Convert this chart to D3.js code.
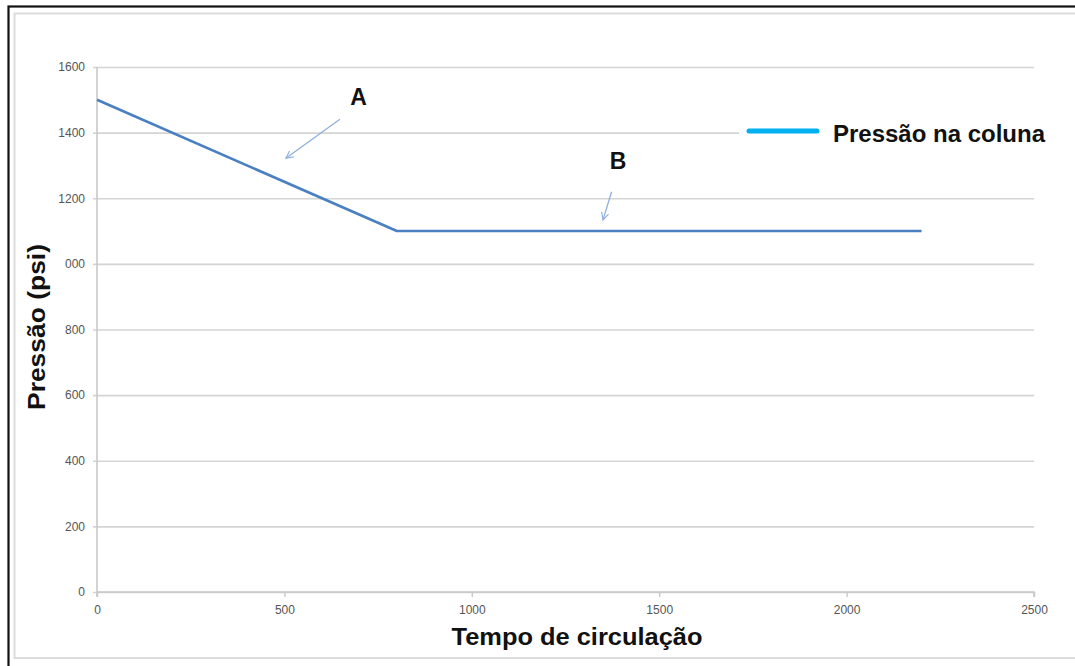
<!DOCTYPE html>
<html>
<head>
<meta charset="utf-8">
<script src="https://cdn.jsdelivr.net/npm/d3@7"></script>
<style>
  html, body { margin: 0; padding: 0; background: #fff; }
  svg { display: block; }
</style>
</head>
<body>
<svg id="chart" width="1075" height="666"></svg>
<script>
// ---- data ----
const tempo = [0, 800, 2200];
const pressao = [1500, 1100, 1100];
const xTicks = [0, 500, 1000, 1500, 2000, 2500];
const xTickLabels = ["0", "500", "1000", "1500", "2000", "2500"];
const yTicks = [0, 200, 400, 600, 800, 1000, 1200, 1400, 1600];
const yTickLabels = ["0", "200", "400", "600", "800", "000", "1200", "1400", "1600"];
const seriesName = "Pressão na coluna";
const xTitle = "Tempo de circulação";
const yTitle = "Pressão (psi)";
// annotations: label, label position, arrow start, arrow end (data coords)
const annLabels = ["A", "B"];
const annLabelX = [698, 1390];
const annLabelY = [1484, 1289];
const annFromX = [648, 1373];
const annFromY = [1441, 1220];
const annToX = [504, 1350];
const annToY = [1322, 1134];

// ---- layout ----
const svg = d3.select("#chart");
const x = d3.scaleLinear().domain([0, 2500]).range([97, 1034]);
const y = d3.scaleLinear().domain([0, 1600]).range([592, 67]);

// frames
svg.append("rect").attr("x", 14.5).attr("y", 13.5).attr("width", 1100).attr("height", 644.5)
  .attr("fill", "none").attr("stroke", "#dcdcdc").attr("stroke-width", 2);
svg.append("rect").attr("x", 8.5).attr("y", 6.5).attr("width", 1100).attr("height", 700)
  .attr("fill", "none").attr("stroke", "#111").attr("stroke-width", 2.2);

const defs = svg.append("defs");
defs.append("marker").attr("id", "arr").attr("viewBox", "0 0 10 10")
  .attr("refX", 9).attr("refY", 5).attr("markerWidth", 9).attr("markerHeight", 9)
  .attr("orient", "auto").attr("markerUnits", "userSpaceOnUse")
  .append("path").attr("d", "M1,1 L9,5 L1,9").attr("fill", "none")
  .attr("stroke", "#8fb0dc").attr("stroke-width", 1.3);

const tickFont = "Liberation Sans, Arial, sans-serif";

// gridlines via axis
const yAxis = d3.axisLeft(y).tickValues(yTicks)
  .tickSize(-(1034 - 93)).tickFormat((d, i) => yTickLabels[i]);
const gy = svg.append("g").attr("transform", "translate(93,0)").call(yAxis);
gy.select(".domain").remove();
gy.selectAll(".tick line").attr("stroke", "#d4d4d4").attr("stroke-width", 1.6);
gy.selectAll(".tick text").attr("x", -8).attr("fill", "#555")
  .style("font-family", tickFont).style("font-size", "12px");

// vertical axis line
svg.append("line").attr("x1", 97).attr("x2", 97).attr("y1", 67).attr("y2", 597)
  .attr("stroke", "#c8c8c8").attr("stroke-width", 1.6);

const xAxis = d3.axisBottom(x).tickValues(xTicks).tickSize(5)
  .tickFormat((d, i) => xTickLabels[i]);
const gx = svg.append("g").attr("transform", "translate(0,592)").call(xAxis);
gx.select(".domain").attr("stroke", "#c8c8c8").attr("stroke-width", 1.6)
  .attr("d", `M${x(0)},0H${x(2500)}V5`);
gx.selectAll(".tick line").attr("stroke", "#c8c8c8").attr("stroke-width", 1.4);
gx.selectAll(".tick text").attr("y", 13).attr("fill", "#555")
  .style("font-family", tickFont).style("font-size", "12px");

// legend background (covers grid)
svg.append("rect").attr("x", 739).attr("y", 112).attr("width", 320).attr("height", 38).attr("fill", "#fff");

// series line
const pts = tempo.map((t, i) => [t, pressao[i]]);
svg.append("path").datum(pts)
  .attr("d", d3.line().x(d => x(d[0])).y(d => y(d[1])))
  .attr("fill", "none").attr("stroke", "#4a7fc1").attr("stroke-width", 2.6)
  .attr("stroke-linejoin", "round");

// legend
svg.append("line").attr("x1", 749).attr("x2", 817).attr("y1", 131).attr("y2", 131)
  .attr("stroke", "#00b0f0").attr("stroke-width", 5).attr("stroke-linecap", "round");
svg.append("text").attr("x", 833).attr("y", 142).text(seriesName)
  .attr("fill", "#111").style("font-family", "Liberation Sans, Arial, sans-serif")
  .style("font-weight", "bold").style("font-size", "23px")
  .attr("textLength", 212).attr("lengthAdjust", "spacingAndGlyphs");

// annotations
annLabels.forEach((lab, i) => {
  svg.append("line").attr("x1", x(annFromX[i])).attr("y1", y(annFromY[i]))
    .attr("x2", x(annToX[i])).attr("y2", y(annToY[i]))
    .attr("stroke", "#8fb0dc").attr("stroke-width", 1.3).attr("marker-end", "url(#arr)");
  svg.append("text").attr("x", x(annLabelX[i])).attr("y", y(annLabelY[i]))
    .attr("text-anchor", "middle").text(lab).attr("fill", "#111")
    .style("font-family", "Liberation Sans, Arial, sans-serif")
    .style("font-weight", "bold").style("font-size", "23px");
});

// axis titles
svg.append("text").attr("x", 577).attr("y", 645).attr("text-anchor", "middle").text(xTitle)
  .attr("fill", "#111").style("font-family", "Liberation Sans, Arial, sans-serif")
  .style("font-weight", "bold").style("font-size", "24px")
  .attr("textLength", 251).attr("lengthAdjust", "spacingAndGlyphs");
svg.append("text").attr("transform", "translate(45,327) rotate(-90)")
  .attr("text-anchor", "middle").text(yTitle)
  .attr("fill", "#111").style("font-family", "Liberation Sans, Arial, sans-serif")
  .style("font-weight", "bold").style("font-size", "24px")
  .attr("textLength", 166).attr("lengthAdjust", "spacingAndGlyphs");
</script>
</body>
</html>
